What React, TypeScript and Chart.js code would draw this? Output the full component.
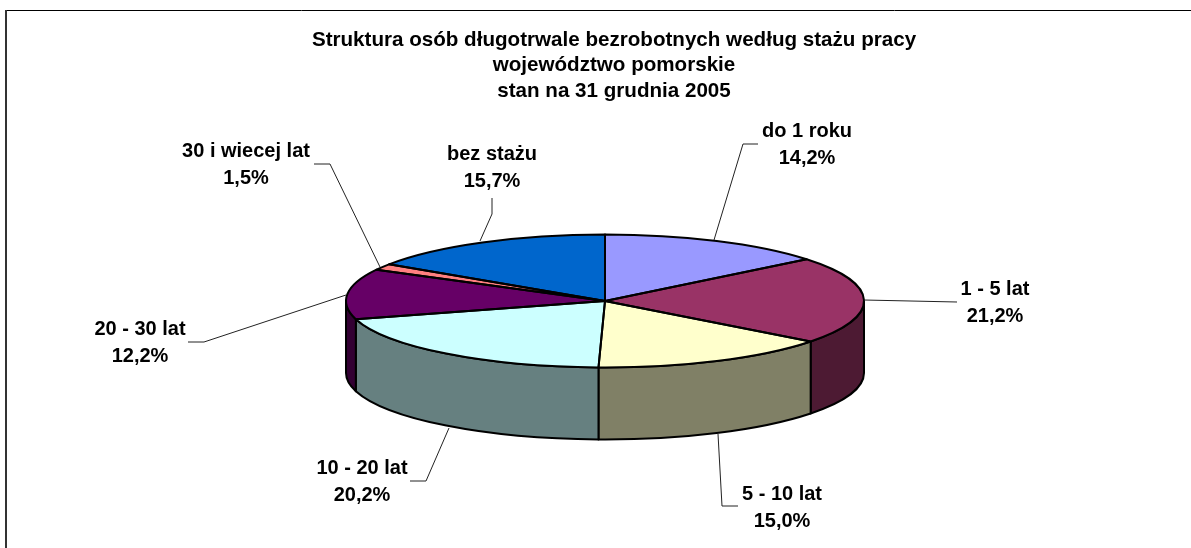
import React, { useEffect, useRef } from "react";
import { Chart, registerables } from "chart.js";

Chart.register(...registerables);

const categories = ["do 1 roku", "1 - 5 lat", "5 - 10 lat", "10 - 20 lat", "20 - 30 lat", "30 i wiecej lat", "bez stażu"];
const percentages = [14.2, 21.2, 15.0, 20.2, 12.2, 1.5, 15.7];
const topColors = ["#9999FF", "#993366", "#FFFFCC", "#CCFFFF", "#660066", "#FF8080", "#0066CC"];
const wallColors = ["#4D4D80", "#4D1A33", "#808066", "#668080", "#330033", "#804040", "#003366"];
const titleLines = ["Struktura osób długotrwale bezrobotnych według stażu pracy", "województwo pomorskie", "stan na 31 grudnia 2005"];

// Projection of the flat pie to the tilted disc
const CX = 605, CY = 301, RX = 259, RY = 66.5, DEPTH = 72;
const FONT = 'bold 20px "Liberation Sans", Arial, sans-serif';
const LINE_H = 26.5;

// Label layout: text centre/baseline, elbow of leader line, leader-start on the label side
const labelLayout = [
  { cx: 807, y: 137, from: [758, 144], elbow: [743, 144], anchor: [714, 240] },
  { cx: 995, y: 295, from: [957, 302], elbow: [957, 302], anchor: [864, 300] },
  { cx: 782, y: 500, from: [738, 506], elbow: [722, 506], anchor: [718, 434] },
  { cx: 362, y: 474, from: [410, 481], elbow: [426, 481], anchor: [449, 428] },
  { cx: 140, y: 335, from: [188, 342], elbow: [204, 342], anchor: [346, 295] },
  { cx: 246, y: 157, from: [314, 164], elbow: [330, 164], anchor: [380, 267] },
  { cx: 492, y: 160, from: [492, 198], elbow: [492, 214], anchor: [480, 241] },
];

const pseudo3d = {
  id: "pseudo3d",
  beforeDatasetsDraw(chart: any) {
    const ctx = chart.ctx;
    const arcs = chart.getDatasetMeta(0).data;
    const base = arcs[0];
    const pt = (a: number, dy = 0) => [CX + RX * Math.cos(a), CY + RY * Math.sin(a) + dy];

    // side walls (only the part facing the viewer)
    ctx.save();
    ctx.lineWidth = 2;
    ctx.strokeStyle = "#000";
    ctx.lineJoin = "round";
    arcs.forEach((arc: any, i: number) => {
      const norm = (v: number) => ((v % (2 * Math.PI)) + 2 * Math.PI) % (2 * Math.PI);
      const s = norm(arc.startAngle);
      const e = s + (arc.endAngle - arc.startAngle);
      const ranges: number[][] = [];
      if (s < Math.PI) ranges.push([s, Math.min(e, Math.PI)]);
      if (e > 2 * Math.PI) ranges.push([2 * Math.PI, Math.min(e, 3 * Math.PI)]);
      ranges.forEach(([a, b]) => {
        if (b <= a) return;
        ctx.beginPath();
        ctx.ellipse(CX, CY, RX, RY, 0, a, b);
        const p = pt(b, DEPTH);
        ctx.lineTo(p[0], p[1]);
        ctx.ellipse(CX, CY + DEPTH, RX, RY, 0, b, a, true);
        ctx.closePath();
        ctx.fillStyle = wallColors[i];
        ctx.fill();
        ctx.stroke();
      });
    });
    ctx.restore();

    // tilt the flat pie drawn by the library
    ctx.save();
    ctx.translate(CX, CY);
    ctx.scale(RX / base.outerRadius, RY / base.outerRadius);
    ctx.translate(-base.x, -base.y);
  },
  afterDatasetsDraw(chart: any) {
    const ctx = chart.ctx;
    ctx.restore();
    const arcs = chart.getDatasetMeta(0).data;
    ctx.save();
    // slice outlines
    ctx.lineWidth = 2;
    ctx.strokeStyle = "#000";
    ctx.lineJoin = "round";
    arcs.forEach((arc: any) => {
      ctx.beginPath();
      ctx.moveTo(CX, CY);
      ctx.ellipse(CX, CY, RX, RY, 0, arc.startAngle, arc.endAngle);
      ctx.closePath();
      ctx.stroke();
    });
    // leader lines
    ctx.lineWidth = 1;
    ctx.strokeStyle = "#222";
    labelLayout.forEach((l) => {
      ctx.beginPath();
      ctx.moveTo(l.from[0], l.from[1]);
      ctx.lineTo(l.elbow[0], l.elbow[1]);
      ctx.lineTo(l.anchor[0], l.anchor[1]);
      ctx.stroke();
    });
    // labels
    ctx.fillStyle = "#000";
    ctx.font = FONT;
    ctx.textAlign = "center";
    ctx.textBaseline = "alphabetic";
    labelLayout.forEach((l, i) => {
      ctx.fillText(categories[i], l.cx, l.y);
      ctx.fillText(percentages[i].toFixed(1).replace(".", ",") + "%", l.cx, l.y + LINE_H);
    });
    ctx.restore();
  },
  beforeDraw(chart: any) {
    const ctx = chart.ctx;
    ctx.save();
    ctx.fillStyle = "#fff";
    ctx.fillRect(0, 0, chart.width, chart.height);
    ctx.strokeStyle = "#000";
    ctx.lineWidth = 1;
    ctx.beginPath();
    ctx.moveTo(5, 10.5);
    ctx.lineTo(chart.width, 10.5);
    ctx.stroke();
    ctx.strokeStyle = "#333";
    ctx.lineWidth = 2;
    ctx.beginPath();
    ctx.moveTo(6, 10);
    ctx.lineTo(6, chart.height);
    ctx.stroke();
    ctx.restore();
  },
};

export default function App() {
  const ref = useRef<HTMLCanvasElement>(null);
  useEffect(() => {
    document.body.style.margin = "0";
    const chart = new Chart(ref.current!, {
      type: "pie",
      data: {
        labels: categories,
        datasets: [{ data: percentages, backgroundColor: topColors, borderWidth: 0 }],
      },
      options: {
        animation: false,
        responsive: false,
        layout: { padding: { left: 37, top: 0, bottom: 10 } },
        plugins: {
          legend: { display: false },
          tooltip: { enabled: false },
          title: {
            display: true,
            text: titleLines,
            color: "#000",
            font: { family: '"Liberation Sans", Arial, sans-serif', size: 20.6, weight: "bold", lineHeight: 1.245 },
            padding: { top: 27, bottom: 0 },
          },
        },
      },
      plugins: [pseudo3d],
    } as any);
    return () => chart.destroy();
  }, []);
  return <canvas ref={ref} width={1191} height={548} style={{ display: "block" }} />;
}
